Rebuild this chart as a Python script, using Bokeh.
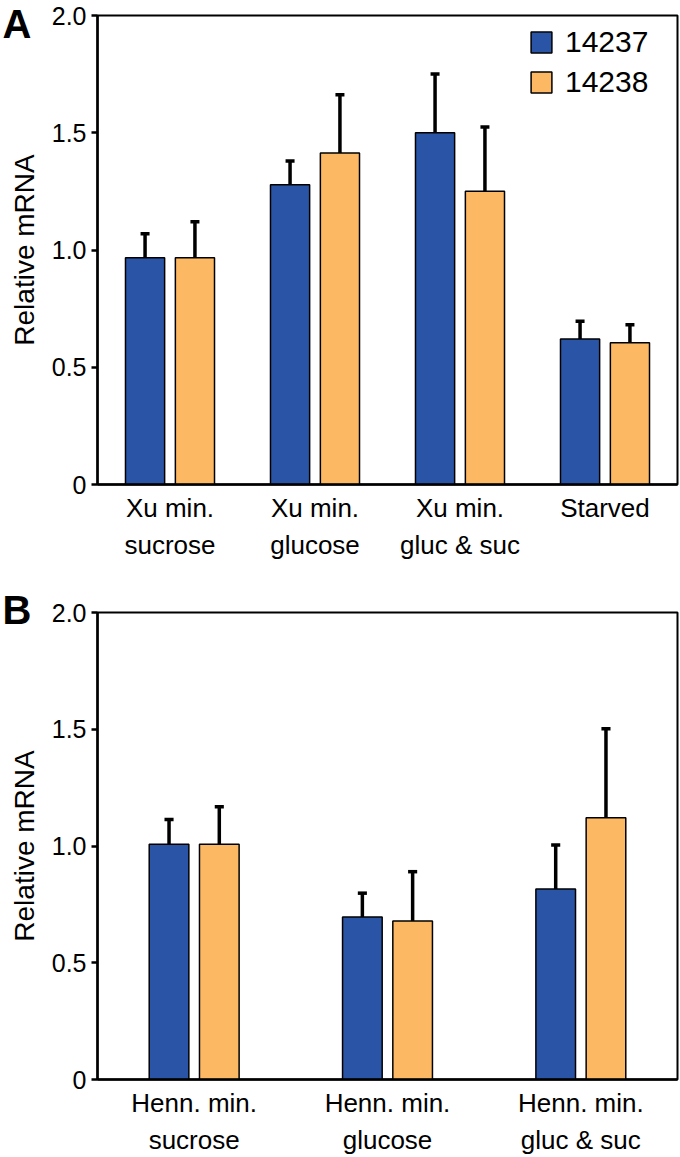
from bokeh.plotting import figure
from bokeh.models import (ColumnDataSource, Range1d, FactorRange, FixedTicker,
                          PrintfTickFormatter, Legend, LegendItem)
from bokeh.transform import dodge
from bokeh.layouts import column
from bokeh.embed import file_html
from bokeh.resources import INLINE

# ---------------- data ----------------
series = ["14237", "14238"]

cats_a = ["Xu min.\nsucrose", "Xu min.\nglucose", "Xu min.\ngluc & suc", "Starved"]
a_14237 = [0.967, 1.278, 1.500, 0.621]
a_14237_err = [0.102, 0.101, 0.251, 0.075]
a_14238 = [0.967, 1.414, 1.251, 0.604]
a_14238_err = [0.153, 0.248, 0.273, 0.077]

cats_b = ["Henn. min.\nsucrose", "Henn. min.\nglucose", "Henn. min.\ngluc & suc"]
b_14237 = [1.008, 0.696, 0.816]
b_14237_err = [0.106, 0.102, 0.188]
b_14238 = [1.008, 0.679, 1.121]
b_14238_err = [0.160, 0.211, 0.381]

y_ticks = [0, 0.5, 1.0, 1.5, 2.0]

BLUE = "#2A55A6"
ORANGE = "#FDB863"
FONT = "Liberation Sans"


def make_panel(cats, v1, e1, v2, e2, letter, height, top, bottom,
               off, bw, capw, title_standoff, show_legend):
    src = ColumnDataSource(dict(
        cat=cats,
        v1=v1, h1=[a + b for a, b in zip(v1, e1)],
        v2=v2, h2=[a + b for a, b in zip(v2, e2)],
    ))
    p = figure(x_range=FactorRange(*cats), y_range=Range1d(0, 2),
               width=680, height=height, output_backend="svg",
               toolbar_location=None, min_border_left=97, min_border_right=3,
               min_border_top=top, min_border_bottom=bottom)
    p.background_fill_color = "white"
    p.border_fill_color = "white"
    p.xgrid.visible = False
    p.ygrid.visible = False
    p.outline_line_color = "black"
    p.outline_line_width = 2

    # panel letter (title placed at the top-left corner)
    p.title.text = letter
    p.title.align = "left"
    p.title.offset = -95
    p.title.standoff = title_standoff
    p.title.vertical_align = "bottom"
    p.title.text_font = FONT
    p.title.text_font_style = "bold"
    p.title.text_font_size = "40px"
    p.title.text_color = "black"

    renderers = []
    for vk, hk, o, col in (("v1", "h1", -off, BLUE), ("v2", "h2", off, ORANGE)):
        r = p.vbar(x=dodge("cat", o, range=p.x_range), top=vk, bottom=0,
                   width=bw, source=src, fill_color=col,
                   line_color="black", line_width=1.5)
        renderers.append(r)
        p.segment(x0=dodge("cat", o, range=p.x_range), y0=vk,
                  x1=dodge("cat", o, range=p.x_range), y1=hk,
                  source=src, line_color="black", line_width=3.5)
        p.segment(x0=dodge("cat", o - capw, range=p.x_range), y0=hk,
                  x1=dodge("cat", o + capw, range=p.x_range), y1=hk,
                  source=src, line_color="black", line_width=3.5)

    # y axis
    ya = p.yaxis[0]
    ya.ticker = FixedTicker(ticks=y_ticks)
    ya.formatter = PrintfTickFormatter(format="%.1f")
    ya.major_label_overrides = {0: "0"}
    ya.major_tick_out = 6
    ya.major_tick_in = 0
    ya.minor_tick_out = 0
    ya.minor_tick_in = 0
    ya.major_tick_line_width = 2.5
    ya.axis_line_width = 2.5
    ya.major_label_text_font = FONT
    ya.major_label_text_font_size = "25px"
    ya.major_label_text_color = "black"
    ya.major_label_standoff = 5
    ya.axis_label = "Relative mRNA"
    ya.axis_label_text_font = FONT
    ya.axis_label_text_font_style = "normal"
    ya.axis_label_text_font_size = "28px"
    ya.axis_label_text_color = "black"
    ya.axis_label_standoff = 9

    # x axis
    xa = p.xaxis[0]
    xa.major_tick_out = 0
    xa.major_tick_in = 0
    xa.axis_line_width = 2.5
    xa.major_label_text_font = FONT
    xa.major_label_text_font_size = "26px"
    xa.major_label_text_color = "black"
    xa.major_label_standoff = 8
    xa.major_label_text_line_height = 1.24

    if show_legend:
        leg = Legend(items=[LegendItem(label=series[0], renderers=[renderers[0]]),
                            LegendItem(label=series[1], renderers=[renderers[1]])],
                     location=(431, 385), padding=0, margin=0, spacing=6,
                     glyph_width=26, glyph_height=26, label_height=26,
                     label_standoff=11, border_line_color=None,
                     background_fill_alpha=0,
                     label_text_font=FONT, label_text_font_size="30px",
                     label_text_color="black")
        p.add_layout(leg)
    return p


pA = make_panel(cats_a, a_14237, a_14237_err, a_14238, a_14238_err, "A",
                height=584, top=15, bottom=100, off=0.172, bw=0.27, capw=0.031,
                title_standoff=-60, show_legend=True)
pB = make_panel(cats_b, b_14237, b_14237_err, b_14238, b_14238_err, "B",
                height=573, top=28, bottom=77, off=0.13, bw=0.205, capw=0.0235,
                title_standoff=-39, show_legend=False)

layout = column(pA, pB)
open("out.html", "w").write(file_html(layout, INLINE))
